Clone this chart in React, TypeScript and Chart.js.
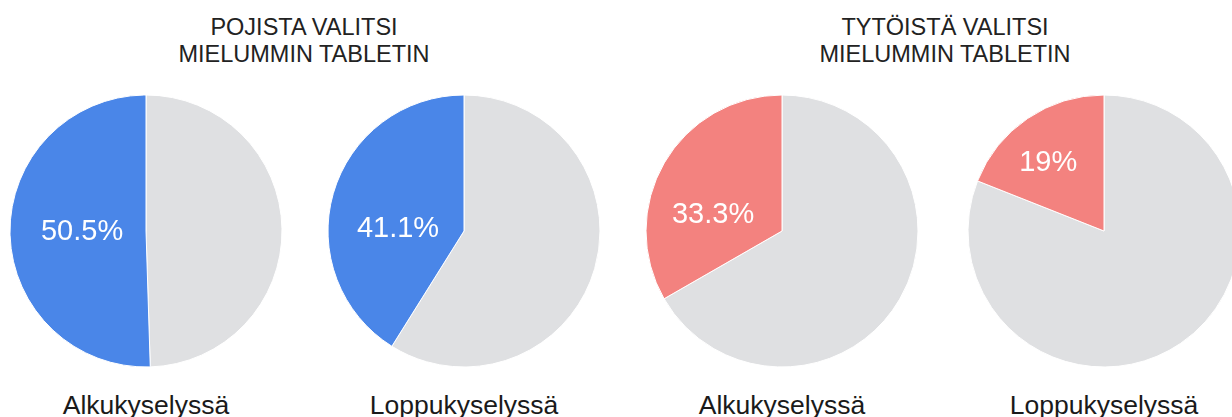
import React, { useEffect, useRef } from "react";
import { Chart, registerables } from "chart.js";

Chart.register(...registerables);

// ---- data ----
const categories = ["Muu valinta", "Tabletti"];
const groupTitles = [
  ["POJISTA VALITSI", "MIELUMMIN TABLETIN"],
  ["TYTÖISTÄ VALITSI", "MIELUMMIN TABLETIN"],
];
const pieLabels = ["Alkukyselyssä", "Loppukyselyssä", "Alkukyselyssä", "Loppukyselyssä"];
const tabletValues = [50.5, 41.1, 33.3, 19];
const otherValues = [49.5, 58.9, 66.7, 81];

// ---- style / layout ----
const GREY = "#dfe0e2";
const sliceColors = ["#4a86e8", "#4a86e8", "#f3827f", "#f3827f"];
const pieCentersX = [146, 464, 782, 1104];
const PIE_CY = 231;
const RADIUS = 136;
const CANVAS = 300;
const groupCentersX = [304, 945];
// label anchor, as fraction of radius relative to pie centre
const labelAnchors = [
  [-0.47, -0.007],
  [-0.485, -0.03],
  [-0.507, -0.134],
  [-0.41, -0.52],
];
const FONT = "'Liberation Sans', Arial, Helvetica, sans-serif";

function PieChart({ index }: { index: number }) {
  const ref = useRef<HTMLCanvasElement | null>(null);
  useEffect(() => {
    if (!ref.current) return;
    const labelPlugin = {
      id: "sliceLabel",
      afterDatasetsDraw(chart: any) {
        const arc: any = chart.getDatasetMeta(0).data[1];
        if (!arc) return;
        const p = arc.getProps(["x", "y", "outerRadius"], true);
        const [fx, fy] = labelAnchors[index];
        const size = 29;
        const c = chart.ctx;
        c.save();
        c.font = `${size}px ${FONT}`;
        c.fillStyle = "#ffffff";
        c.textAlign = "center";
        c.textBaseline = "alphabetic";
        c.fillText(
          `${tabletValues[index]}%`,
          p.x + fx * p.outerRadius,
          p.y + fy * p.outerRadius + 0.358 * size
        );
        c.restore();
      },
    };
    const chart = new Chart(ref.current, {
      type: "pie",
      data: {
        labels: categories,
        datasets: [
          {
            data: [otherValues[index], tabletValues[index]],
            backgroundColor: [GREY, sliceColors[index]],
            borderColor: "#ffffff",
            borderWidth: 1,
            radius: RADIUS,
          } as any,
        ],
      },
      options: {
        animation: false,
        responsive: false,
        events: [],
        layout: { padding: 0 },
        plugins: {
          legend: { display: false },
          tooltip: { enabled: false },
          title: { display: false },
        },
      },
      plugins: [labelPlugin],
    });
    return () => chart.destroy();
  }, [index]);
  return (
    <canvas
      ref={ref}
      width={CANVAS}
      height={CANVAS}
      style={{
        position: "absolute",
        left: pieCentersX[index] - CANVAS / 2,
        top: PIE_CY - CANVAS / 2,
        width: CANVAS,
        height: CANVAS,
      }}
    />
  );
}

export default function App() {
  return (
    <div
      style={{
        position: "fixed",
        left: 0,
        top: 0,
        width: 1232,
        height: 417,
        overflow: "hidden",
        background: "#ffffff",
        fontFamily: FONT,
      }}
    >
      {groupTitles.map((lines, g) => (
        <div
          key={"t" + g}
          style={{
            position: "absolute",
            left: groupCentersX[g] - 250,
            width: 500,
            top: 14.4,
            textAlign: "center",
            fontSize: 23.5,
            lineHeight: "27px",
            color: "#222222",
            whiteSpace: "nowrap",
          }}
        >
          {lines.map((l, i) => (
            <div key={i}>{l}</div>
          ))}
        </div>
      ))}
      {pieLabels.map((_, i) => (
        <PieChart key={"p" + i} index={i} />
      ))}
      {pieLabels.map((l, i) => (
        <div
          key={"l" + i}
          style={{
            position: "absolute",
            left: pieCentersX[i] - 150,
            width: 300,
            top: 389.8,
            textAlign: "center",
            fontSize: 26.5,
            lineHeight: "30px",
            color: "#1a1a1a",
            whiteSpace: "nowrap",
          }}
        >
          {l}
        </div>
      ))}
    </div>
  );
}
